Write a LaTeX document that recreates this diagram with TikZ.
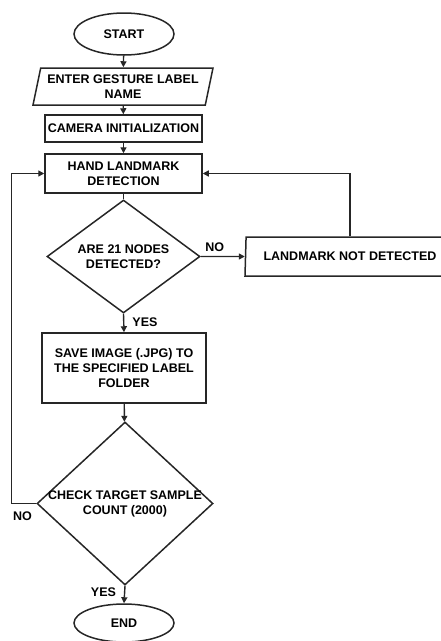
\documentclass[tikz,border=0pt]{standalone}
\usepackage{fontspec}
\setmainfont{Liberation Sans}
\usetikzlibrary{shapes.geometric,arrows.meta}

\begin{document}
\begin{tikzpicture}[x=1pt,y=-1pt,
    every node/.style={font=\bfseries\fontsize{12.5}{15}\selectfont, align=center, inner sep=0pt},
    shp/.style={draw=black!85, line width=1.5pt},
    term/.style={shp, ellipse, minimum width=100pt},
    box/.style={shp, rectangle},
    io/.style={shp, trapezium, trapezium stretches body},
    decision/.style={shp, diamond},
    line/.style={draw=black!85, line width=1.4pt},
    flow/.style={line, -{Triangle[length=6pt,width=6pt]}}]
    \path[use as bounding box] (0,0) rectangle (441,641);
    \clip (0,0) rectangle (441,641);
    \node[term, minimum height=42pt] (start) at (124,34) {START};
    \node[io, trapezium left angle=72, trapezium right angle=108, minimum width=180pt, minimum height=37pt] (gesture) at (123,86.5) {ENTER GESTURE LABEL\\NAME};
    \node[box, minimum width=157pt, minimum height=27pt] (camera) at (123.5,128.5) {CAMERA INITIALIZATION};
    \node[box, minimum width=157pt, minimum height=39pt] (hand) at (123.5,173.5) {HAND LANDMARK\\DETECTION};
    \node[decision, minimum width=153pt, minimum height=113pt, label={[align=center]center:ARE 21 NODES\\DETECTED?}] (nodes) at (123.5,256.5) {};
    \node[io, trapezium left angle=83, trapezium right angle=97, minimum width=210pt, minimum height=39pt] (notfound) at (350,256.5) {LANDMARK NOT DETECTED};
    \node[box, minimum width=164pt, minimum height=70pt] (save) at (124,368) {SAVE IMAGE (.JPG) TO\\THE SPECIFIED LABEL\\FOLDER};
    \node[decision, minimum width=176pt, minimum height=163pt, label={[align=center]center:CHECK TARGET SAMPLE\\COUNT (2000)}] (count) at (125,503.5) {};
    \node[term, minimum height=38pt] (end) at (124,623) {END};

    \draw[flow] (start) -- (gesture);
    \draw[flow] (gesture) -- (camera);
    \draw[flow] (camera) -- (hand);
    \draw[line] (hand) -- (nodes);
    \draw[flow] (nodes.east) -- node[pos=0.32, above=4pt] {NO} (notfound.west);
    \draw[flow] (nodes.south) -- node[pos=0.45, right=8pt] {YES} (save.north);
    \draw[flow] (save) -- (count);
    \draw[flow] (count.south) -- node[pos=0.35, left=8pt] {YES} (end.north);
    \draw[flow] (notfound.north) |- (hand.east);
    \draw[flow] (count.west) -- node[pos=0.55, below=8pt] {NO} ++(-25,0) |- (hand.west);
\end{tikzpicture}
\end{document}
